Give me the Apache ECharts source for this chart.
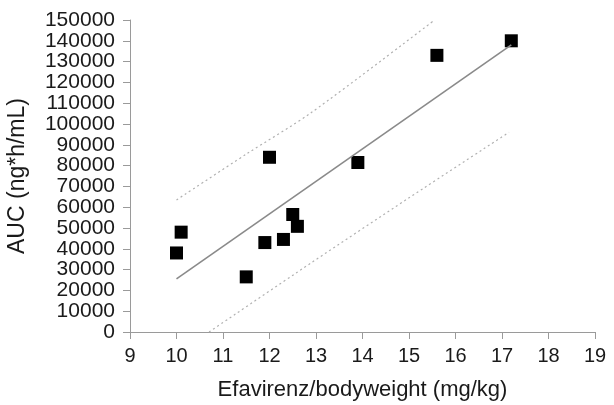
<!DOCTYPE html>
<html>
<head>
<meta charset="utf-8">
<script src="https://cdn.jsdelivr.net/npm/echarts@6/dist/echarts.min.js"></script>
<style>
html, body { margin: 0; padding: 0; background: #fff; }
#chart { width: 614px; height: 405px; }
</style>
</head>
<body>
<div id="chart"></div>
<script>
// 观测点：体重校正剂量 vs AUC
const doseKg = [10.0, 10.1, 11.5, 11.9, 12.0, 12.3, 12.5, 12.6, 13.9, 15.6, 17.2];
const aucVals = [38000, 48000, 26500, 43000, 84000, 44500, 56500, 50800, 81500, 133000, 140000];

// 回归线和上下虚线（从图上读出的端点）
const fitLine = [[10.0, 25500], [17.2, 138000]];
const upperBand = [[10.0, 63500], [11.5, 85500], [12.9, 105500], [15.55, 150000]];
const lowerBand = [[10.7, 0], [12.9, 33300], [15.0, 64500], [17.15, 96000]];

const xName = "Efavirenz/bodyweight (mg/kg)";
const yName = "AUC (ng*h/mL)";

const chart = echarts.init(document.getElementById("chart"));

const axisCommon = {
  axisLine: { show: true, lineStyle: { color: "#9a9a9a", width: 1 } },
  axisTick: { show: true, length: 7, lineStyle: { color: "#9a9a9a" } },
  splitLine: { show: false },
  axisLabel: { color: "#1a1a1a", fontSize: 20, fontFamily: "Liberation Sans, Arial", formatter: (v) => String(v) },
  nameTextStyle: { color: "#1a1a1a", fontSize: 22, fontFamily: "Liberation Sans, Arial" },
};

chart.setOption({
  animation: false,
  backgroundColor: "#fff",
  grid: { left: 130, right: 19, top: 20, bottom: 73, outerBoundsMode: "none" },
  xAxis: {
    ...axisCommon,
    type: "value",
    min: 9,
    max: 19,
    interval: 1,
    name: xName,
    nameLocation: "middle",
    nameGap: 47,
    axisLabel: { ...axisCommon.axisLabel, margin: 14 },
  },
  yAxis: {
    ...axisCommon,
    type: "value",
    min: 0,
    max: 150000,
    interval: 10000,
    name: yName,
    nameLocation: "middle",
    nameGap: 101,
    nameTextStyle: { ...axisCommon.nameTextStyle, fontSize: 23 },
    axisLabel: { ...axisCommon.axisLabel, fontSize: 21, margin: 15 },
  },
  series: [
    {
      type: "line",
      data: upperBand,
      symbol: "none",
      smooth: 0.3,
      lineStyle: { color: "#b0b0b0", width: 1.2, type: [2, 3] },
    },
    {
      type: "line",
      data: lowerBand,
      symbol: "none",
      smooth: 0.3,
      lineStyle: { color: "#b0b0b0", width: 1.2, type: [2, 3] },
    },
    {
      type: "line",
      data: fitLine,
      symbol: "none",
      lineStyle: { color: "#8a8a8a", width: 1.6 },
    },
    {
      type: "scatter",
      data: doseKg.map((x, i) => [x, aucVals[i]]),
      symbol: "rect",
      symbolSize: 13,
      itemStyle: { color: "#000", opacity: 1 },
    },
  ],
});
</script>
</body>
</html>
